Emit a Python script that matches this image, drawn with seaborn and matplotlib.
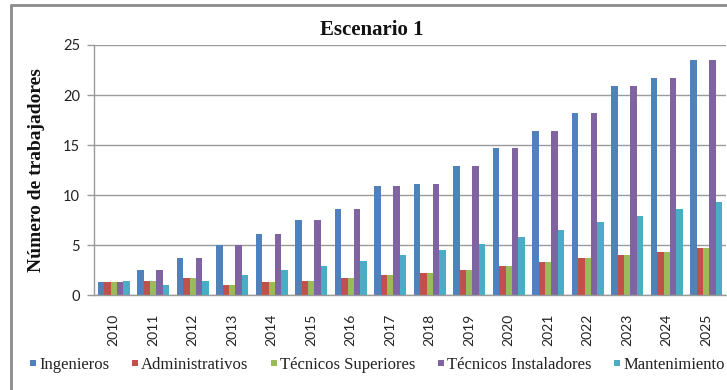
import numpy as np
import pandas as pd
import matplotlib
matplotlib.use("Agg")
import matplotlib.pyplot as plt
from matplotlib.lines import Line2D
import seaborn as sns

# Employment projection, scenario 1
years = [str(y) for y in range(2010, 2026)]
ingenieros = [1.3, 2.5, 3.75, 5.0, 6.1, 7.5, 8.65, 10.9, 11.15, 12.9, 14.7, 16.45, 18.25, 20.95, 21.75, 23.5]
administrativos = [1.3, 1.45, 1.7, 1.05, 1.3, 1.45, 1.7, 2.0, 2.25, 2.55, 2.95, 3.3, 3.7, 4.0, 4.35, 4.7]
tec_superiores = [1.3, 1.45, 1.7, 1.05, 1.3, 1.45, 1.7, 2.0, 2.25, 2.55, 2.95, 3.3, 3.7, 4.0, 4.35, 4.7]
tec_instaladores = [1.3, 2.5, 3.75, 5.0, 6.1, 7.5, 8.65, 10.9, 11.15, 12.9, 14.7, 16.45, 18.25, 20.95, 21.75, 23.5]
mantenimiento = [1.45, 1.05, 1.45, 2.0, 2.5, 2.95, 3.45, 4.0, 4.55, 5.1, 5.85, 6.55, 7.3, 7.95, 8.65, 9.35]

series_names = ["Ingenieros", "Administrativos", "Técnicos Superiores",
                "Técnicos Instaladores", "Mantenimiento"]
series_values = [ingenieros, administrativos, tec_superiores, tec_instaladores, mantenimiento]
colors = ["#4F81BD", "#C0504D", "#9BBB59", "#8064A2", "#4BACC6"]

title = "Escenario 1"
ylabel = "Número de trabajadores"
yticks = [0, 5, 10, 15, 20, 25]

df = pd.DataFrame({
    "Año": np.tile(years, len(series_names)),
    "Trabajadores": np.concatenate(series_values),
    "Tipo": np.repeat(series_names, len(years)),
})

sns.set_theme(style="white")
serif = ["Liberation Serif", "DejaVu Serif"]
sans = ["Lato", "DejaVu Sans"]
grid_gray = "#9A9A9A"

W, H = 727, 390
fig = plt.figure(figsize=(W / 100, H / 100), dpi=100)
ax = fig.add_axes([94 / W, 1 - 295.3 / H, 632 / W, 250.3 / H])

sns.barplot(data=df, x="Año", y="Trabajadores", hue="Tipo", palette=colors,
            hue_order=series_names, order=years, width=0.82, saturation=1,
            linewidth=0, ax=ax, legend=False, errorbar=None)

ax.set_xlim(-0.5, len(years) - 0.5)
ax.set_ylim(0, 25)
ax.set_yticks(yticks)
ax.set_yticklabels([str(t) for t in yticks], family=sans, fontsize=10.5, color="#222222")
ax.yaxis.grid(True, color=grid_gray, linewidth=1.0)
ax.set_axisbelow(True)

# x ticks: labels centred on categories, tick marks on category boundaries
ax.set_xticks(range(len(years)))
ax.set_xticklabels(years, rotation=90, family=sans, fontsize=10, color="#222222")
ax.tick_params(axis="x", which="major", length=0, pad=13)
ax.set_xticks(np.arange(-0.5, len(years) + 0.5, 1), minor=True)
ax.tick_params(axis="x", which="minor", length=5, width=1, color=grid_gray, direction="out")
ax.tick_params(axis="y", length=5, width=1, color=grid_gray, direction="out", left=True, pad=5)

for side in ["top", "right"]:
    ax.spines[side].set_visible(False)
for side in ["left", "bottom"]:
    ax.spines[side].set_color(grid_gray)
    ax.spines[side].set_linewidth(1.0)

ax.set_xlabel("")
ax.set_ylabel("")
fig.text(372 / W, 1 - 30 / H, title, ha="center", va="center",
         family=serif, fontweight="bold", fontsize=15, color="#111111")
fig.text(37 / W, 1 - 170 / H, ylabel, ha="center", va="center", rotation=90,
         family=serif, fontweight="bold", fontsize=14, color="#111111")

handles = [Line2D([], [], marker="s", linestyle="none", markersize=5,
                  markerfacecolor=c, markeredgewidth=0) for c in colors]
leg = fig.legend(handles, series_names, loc="center", bbox_to_anchor=(377 / W, 1 - 365 / H),
                 ncol=5, frameon=False, handlelength=0.5, handletextpad=0.1,
                 columnspacing=1.3, borderpad=0.1, prop={"family": serif, "size": 12})
for t in leg.get_texts():
    t.set_color("#222222")

# outer frame of the chart object
frame = "#8C8C8C"
fig.add_artist(Line2D([10.5 / W, 1], [1 - 5 / H, 1 - 5 / H], color=frame, linewidth=2,
                      transform=fig.transFigure))
fig.add_artist(Line2D([10.5 / W, 10.5 / W], [0, 1 - 5 / H], color=frame, linewidth=2,
                      transform=fig.transFigure))

fig.savefig("out.png", dpi=100)
